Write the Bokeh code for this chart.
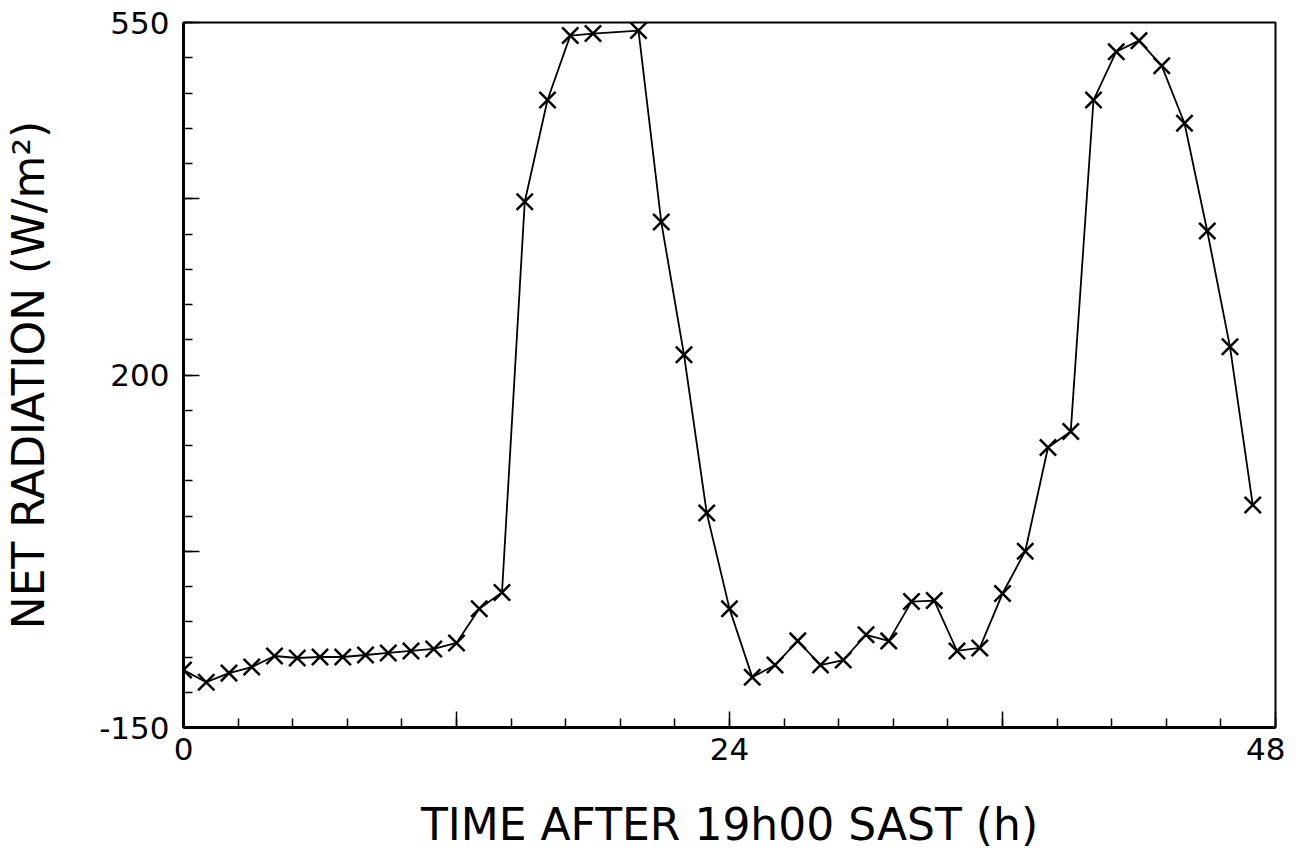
from bokeh.plotting import figure
from bokeh.models import FixedTicker
from bokeh.embed import file_html
from bokeh.resources import INLINE

# Hourly net radiation (hour 19 missing in the record)
hours = [0, 1, 2, 3, 4, 5, 6, 7, 8, 9, 10, 11, 12, 13, 14, 15, 16, 17, 18,
         20, 21, 22, 23, 24, 25, 26, 27, 28, 29, 30, 31, 32, 33, 34, 35, 36,
         37, 38, 39, 40, 41, 42, 43, 44, 45, 46, 47]
net_radiation = [-93, -105, -96, -90, -79, -81, -80, -80, -78, -76, -74, -72,
                 -66, -32, -16, 372, 473, 537, 539,
                 542, 352, 220, 63, -32, -100, -88, -64, -88, -83, -58, -64,
                 -25, -24, -74, -71, -17, 25, 128, 144, 473, 521, 532, 507,
                 450, 343, 228, 71]

x_major = [0, 12, 24, 36, 48]
x_labels = {0: "0", 12: "", 24: "24", 36: "", 48: "48"}
y_major = [-150, 25, 200, 375, 550]
y_labels = {-150: "-150", 25: "", 200: "200", 375: "", 550: "550"}
x_minor = [i * 2.4 for i in range(21)]
y_minor = [-150 + i * 35 for i in range(21)]

x_title = "TIME AFTER 19h00 SAST (h)"
y_title = "NET RADIATION (W/m²)"

FONT = "DejaVu Sans"

p = figure(frame_width=1092, frame_height=705, x_range=(0, 48),
           y_range=(-150, 550),
           output_backend="svg", toolbar_location=None,
           min_border_left=183, min_border_top=22, min_border_right=10,
           min_border_bottom=128)
p.background_fill_color = "white"
p.border_fill_color = "white"
p.grid.visible = False
p.outline_line_color = "black"
p.outline_line_width = 2

for ax, ticks, minor, labels in ((p.xaxis[0], x_major, x_minor, x_labels),
                                 (p.yaxis[0], y_major, y_minor, y_labels)):
    ax.ticker = FixedTicker(ticks=ticks, minor_ticks=minor)
    ax.major_label_overrides = labels
    ax.axis_line_width = 3
    ax.axis_line_color = "black"
    ax.major_tick_in = 16
    ax.major_tick_out = 0
    ax.minor_tick_in = 9
    ax.minor_tick_out = 0
    ax.major_tick_line_width = 1.5
    ax.minor_tick_line_width = 1.5
    ax.major_label_text_font = FONT
    ax.major_label_text_font_size = "31px"
    ax.major_label_text_color = "black"
    ax.axis_label_text_font = FONT
    ax.axis_label_text_font_size = "44px"
    ax.axis_label_text_font_style = "normal"
    ax.axis_label_text_color = "black"

p.xaxis.major_label_standoff = 10
p.yaxis.major_label_standoff = 14
p.yaxis.major_label_orientation = "horizontal"
p.xaxis.axis_label = x_title
p.yaxis.axis_label = y_title
p.xaxis.axis_label_standoff = 36
p.yaxis.axis_label_standoff = 42

p.line(hours, net_radiation, line_color="black", line_width=1.8)
p.scatter(hours, net_radiation, marker="x", size=23, line_color="black",
          line_width=2.5)

open("out.html", "w").write(file_html(p, INLINE))
